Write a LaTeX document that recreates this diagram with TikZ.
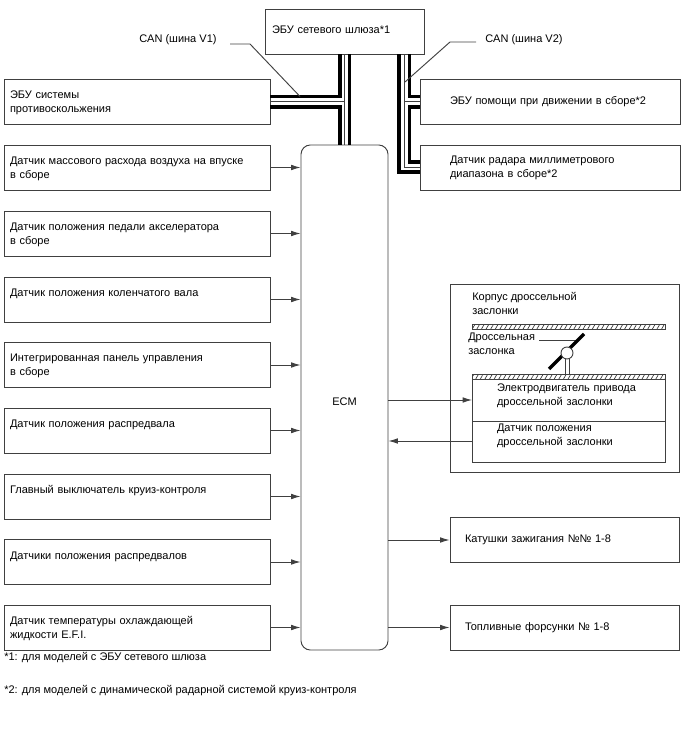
\documentclass[tikz,border=0pt]{standalone}
\usepackage{fontspec}
\setmainfont{Liberation Sans}
\usetikzlibrary{arrows.meta,patterns.meta}
\tikzset{
    base/.style={draw=black!75, line width=0.7pt, minimum height=33.75pt, inner ysep=0pt, align=left,
        font=\fontsize{8.25}{10.5}\selectfont},
    leftbox/.style={base, text width=190.5pt, inner xsep=4.5pt, text depth=10.5pt},
    leftone/.style={leftbox, text depth=10pt},
    rightbox/.style={base, text width=150pt, inner xsep=22.5pt},
    endbox/.style={base, text width=149.25pt, inner xsep=11.25pt},
    gwbox/.style={base, text width=108.75pt, inner xsep=5.25pt, text depth=3pt},
    ecmbox/.style={base, minimum width=65.25pt, minimum height=378.75pt, rounded corners=7pt, align=center,
        text height=12.5pt, text depth=0pt},
    label/.style={inner sep=0pt, align=left, anchor=west, font=\fontsize{8.25}{10.5}\selectfont},
    signal/.style={draw=black!75, line width=0.7pt, -{Latex[length=7pt,width=4.2pt]}},
    busthick/.style={line width=2.6pt},
    busthin/.style={line width=0.7pt, draw=black!75},
    leader/.style={line width=0.7pt, draw=black!75},
    hatchbar/.style={draw=black!75, line width=0.6pt, pattern={Lines[angle=60,distance=3pt,line width=0.5pt]}, pattern color=black!80},
    partbox/.style={base, minimum width=144.75pt, inner xsep=0pt, text width=144.75pt},
}
\begin{document}
\begin{tikzpicture}[x=0.75pt,y=-0.75pt]
    \useasboundingbox (0,0) rectangle (688,755);
    % top row
    \node[gwbox] (gw) at (344.5,31.5) {ЭБУ сетевого шлюза*1};
    \node[leftbox] (abs) at (137,102) {ЭБУ системы\\противоскольжения};
    \node[rightbox] (drive) at (550,102) {ЭБУ помощи при движении в сборе*2};
    \node[rightbox] (radar) at (550,167.5) {Датчик радара миллиметрового\\диапазона в сборе*2};
    % inputs
    \node[leftbox] (maf) at (137,167.5) {Датчик массового расхода воздуха на впуске\\в сборе};
    \node[leftbox] (pedal) at (137,233.5) {Датчик положения педали акселератора\\в сборе};
    \node[leftone] (crank) at (137,299.5) {Датчик положения коленчатого вала};
    \node[leftbox] (panel) at (137,365) {Интегрированная панель управления\\в сборе};
    \node[leftone] (cam) at (137,430.5) {Датчик положения распредвала};
    \node[leftone] (cruise) at (137,496.5) {Главный выключатель круиз-контроля};
    \node[leftone] (cams) at (137,562) {Датчики положения распредвалов};
    \node[leftbox] (temp) at (137,627.5) {Датчик температуры охлаждающей\\жидкости E.F.I.};
    \node[ecmbox] (ecm) at (344.5,397.5) {ECM};
    % outputs
    \node[endbox] (coil) at (564.5,540) {Катушки зажигания №№ 1-8};
    \node[endbox] (inj) at (564.5,627.5) {Топливные форсунки № 1-8};
    % throttle body
    \node[draw=black!75, line width=0.7pt, minimum width=171.75pt, minimum height=141pt, inner sep=0pt] (body) at (564.5,378) {};
    \node[partbox, minimum height=35.25pt, text depth=15pt] (motor) at (568.5,397.5) {\hspace{18.75pt}Электродвигатель привода\\\hspace{18.75pt}дроссельной заслонки};
    \node[partbox, minimum height=30.75pt, text depth=20.5pt] (tps) at (568.5,441.5) {\hspace{18.75pt}Датчик положения\\\hspace{18.75pt}дроссельной заслонки};
    \node[hatchbar, minimum width=144.75pt, minimum height=3.75pt, inner sep=0pt] (barA) at (568.5,326.5) {};
    \node[hatchbar, minimum width=144.75pt, minimum height=3.75pt, inner sep=0pt] (barB) at (568.5,376.5) {};
    \node[label] (bodytext) at (472,303) {Корпус дроссельной\\заслонки};
    \node[label] (valvetext) at (468,344) {Дроссельная\\заслонка};
    \coordinate (plateA) at (549,369);
    \coordinate (plateB) at (584,334);
    \coordinate (stem) at (567,353);
    \draw[leader] (539,340) -- (577,340);
    \draw[line width=2.6pt] (plateA) -- (plateB);
    \draw[line width=0.7pt, draw=black!75] ([xshift=-1.5pt]stem) -- ([xshift=-1.5pt]stem |- barB.north);
    \draw[line width=0.7pt, draw=black!75] ([xshift=1.5pt]stem) -- ([xshift=1.5pt]stem |- barB.north);
    \node[circle, draw=black!75, fill=white, line width=0.7pt, minimum size=9pt, inner sep=0pt] (pivot) at (stem) {};
    % arrows
    \draw[signal] (maf.east) -- (maf.east -| ecm.west);
    \draw[signal] (pedal.east) -- (pedal.east -| ecm.west);
    \draw[signal] (crank.east |- crank.center) -- (crank.center -| ecm.west);
    \draw[signal] (panel.east) -- (panel.east -| ecm.west);
    \draw[signal] (cam.east |- cam.center) -- (cam.center -| ecm.west);
    \draw[signal] (cruise.east |- cruise.center) -- (cruise.center -| ecm.west);
    \draw[signal] (cams.east |- cams.center) -- (cams.center -| ecm.west);
    \draw[signal] (temp.east) -- (temp.east -| ecm.west);
    \draw[signal] (coil.west -| ecm.east) -- (coil.west);
    \draw[signal] (inj.west -| ecm.east) -- (inj.west);
    \coordinate (toMotor) at (472,400);
    \coordinate (fromTps) at (472,441);
    \draw[signal] (toMotor -| ecm.east) -- (toMotor);
    \draw[signal] (fromTps) -- (fromTps -| ecm.east);
    % CAN V1
    \coordinate (va) at (340,96.5);
    \coordinate (vb) at (344.5,101.7);
    \coordinate (vc) at (349.5,107);
    \draw[busthick] (abs.east |- va) -- (va) -- (va |- gw.south);
    \draw[busthick] (abs.east |- vc) -- (va |- vc) -- (va |- ecm.north);
    \draw[busthin] (abs.east |- vb) -- (vb);
    \draw[busthin] (vb |- gw.south) -- (vb |- ecm.north);
    \draw[busthick] (vc |- gw.south) -- (vc |- ecm.north);
    % CAN V2
    \coordinate (wa) at (399,172);
    \coordinate (wb) at (404,167);
    \coordinate (wc) at (409.5,96.5);
    \coordinate (wd) at (409.5,162);
    \coordinate (we) at (409.5,107);
    \draw[busthick] (wa |- gw.south) -- (wa) -- (wa -| radar.west);
    \draw[busthin] (wb |- gw.south) -- (wb) -- (wb -| radar.west);
    \draw[busthin] (wb |- vb) -- (vb -| drive.west);
    \draw[busthick] (wc |- gw.south) -- (wc) -- (wc -| drive.west);
    \draw[busthick] (we -| drive.west) -- (we) -- (wd) -- (wd -| radar.west);
    % bus labels
    \node[label] (canA) at (139,40) {CAN (шина V1)};
    \node[label] (canB) at (485,40) {CAN (шина V2)};
    \coordinate (canAend) at (300,96.5);
    \coordinate (canBend) at (405,82);
    \draw[leader] (230,44) -- (250,44) -- (canAend);
    \draw[leader] (476,42) -- (450,42) -- (canBend);
    % notes
    \node[label] (noteA) at (4,658) {*1: для моделей с ЭБУ сетевого шлюза};
    \node[label] (noteB) at (4,691) {*2: для моделей с динамической радарной системой круиз-контроля};
\end{tikzpicture}
\end{document}
